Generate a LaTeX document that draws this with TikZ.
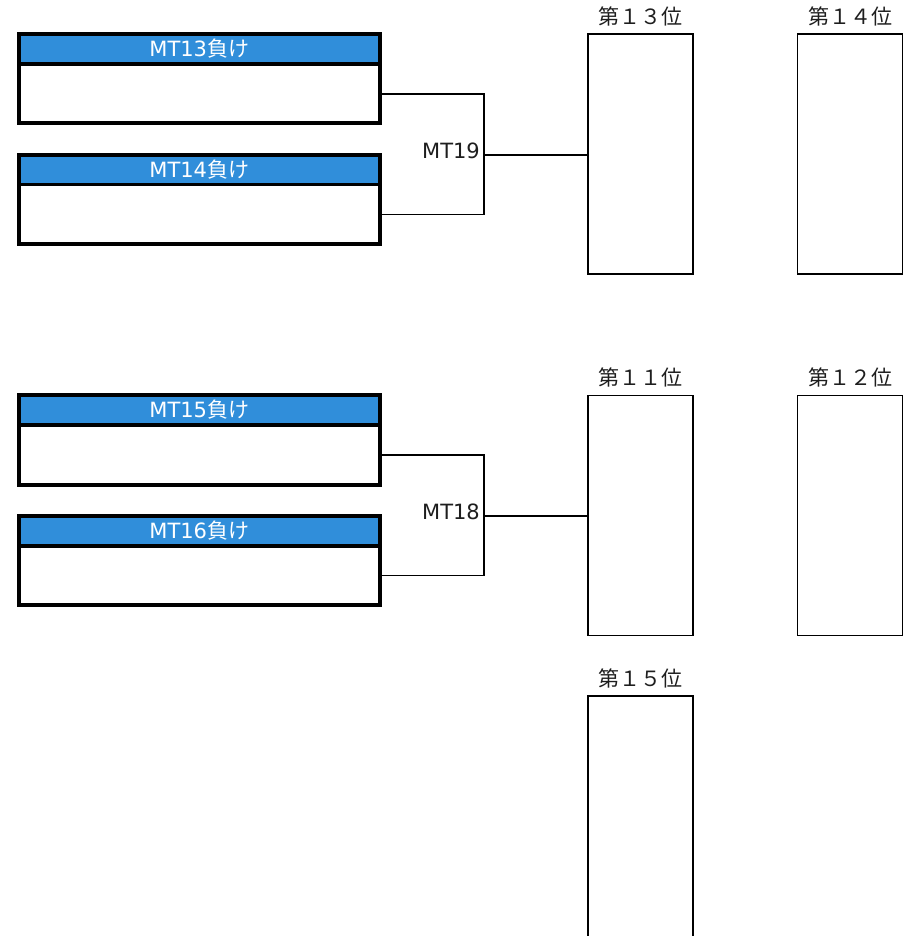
\documentclass[tikz,border=0pt]{standalone}
\usepackage{fontspec}
\setmainfont{DejaVu Sans}
\newfontfamily\cjk{Noto Sans CJK JP}
\definecolor{hdrblue}{RGB}{48,142,218}
\definecolor{ink}{RGB}{30,30,30}
\tikzset{
  hdr/.style={fill=hdrblue, text=white, minimum width=360.5pt, minimum height=30pt, inner sep=0pt, font=\fontsize{21}{25}\selectfont},
  teambox/.style={draw=black, line width=4pt, minimum width=360.5pt, minimum height=89.5pt, inner sep=0pt},
  bodyarea/.style={minimum width=360.5pt, minimum height=59.5pt, inner sep=0pt},
  divider/.style={line width=3.5pt},
  rankbox/.style={draw=black, line width=1.8pt, minimum width=105pt, minimum height=240pt, inner sep=0pt},
  ranklabel/.style={text=ink, inner sep=0pt, font=\fontsize{21}{25}\selectfont\cjk},
  mtlabel/.style={text=ink, inner sep=0pt, anchor=east, font=\fontsize{21}{25}\selectfont},
  conn/.style={draw=black, line width=1.8pt},
}
\begin{document}
\begin{tikzpicture}[x=1pt,y=-1pt]
\useasboundingbox (0,0) rectangle (914,936);
\clip (0,0) rectangle (914,936);

% ---- group 1 ----
\node[hdr] (h13) at (199.25,49) {MT13{\cjk 負け}};
\node[bodyarea] (b13) at (199.25,93.75) {};
\node[teambox] (t13) at (199.25,78.75) {};
\draw[divider] (h13.south west) -- (h13.south east);

\node[hdr] (h14) at (199.25,169.5) {MT14{\cjk 負け}};
\node[bodyarea] (b14) at (199.25,214.5) {};
\node[teambox] (t14) at (199.25,199.5) {};
\draw[divider] (h14.south west) -- (h14.south east);

\coordinate (j19) at (484,155);
\draw[conn] (b13.east) -| (j19) |- (b14.east);
\node[rankbox] (r13) at (640.5,154) {};
\node[rankbox] (r14) at (850,154) {};
\draw[conn] (j19) -- (r13.west |- j19);
\node[mtlabel] (m19) at (480,151) {MT19};
\node[ranklabel] (l13) at (640.5,16) {第１３位};
\node[ranklabel] (l14) at (850,16) {第１４位};

% ---- group 2 ----
\node[hdr] (h15) at (199.25,410) {MT15{\cjk 負け}};
\node[bodyarea] (b15) at (199.25,455) {};
\node[teambox] (t15) at (199.25,440) {};
\draw[divider] (h15.south west) -- (h15.south east);

\node[hdr] (h16) at (199.25,531) {MT16{\cjk 負け}};
\node[bodyarea] (b16) at (199.25,575.5) {};
\node[teambox] (t16) at (199.25,560.5) {};
\draw[divider] (h16.south west) -- (h16.south east);

\coordinate (j18) at (484,516);
\draw[conn] (b15.east) -| (j18) |- (b16.east);
\node[rankbox] (r11) at (640.5,515.5) {};
\node[rankbox] (r12) at (850,515.5) {};
\draw[conn] (j18) -- (r11.west |- j18);
\node[mtlabel] (m18) at (480,512) {MT18};
\node[ranklabel] (l11) at (640.5,377) {第１１位};
\node[ranklabel] (l12) at (850,377) {第１２位};

% ---- rank 15 ----
\node[rankbox, minimum height=304pt] (r15) at (640.5,848) {};
\node[ranklabel] (l15) at (640.5,678) {第１５位};
\end{tikzpicture}
\end{document}
